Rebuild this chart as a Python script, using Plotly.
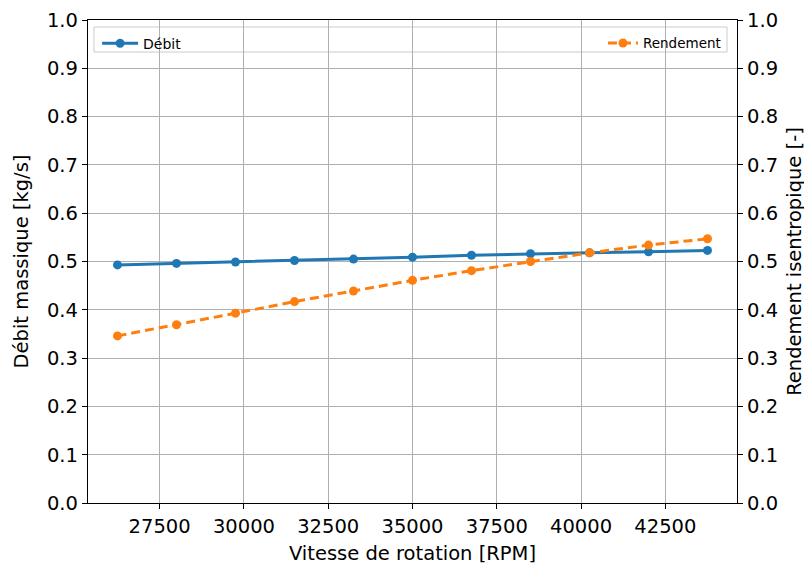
import plotly.graph_objects as go

rpm = [26250, 28000, 29750, 31500, 33250, 35000, 36750, 38500, 40250, 42000, 43750]
debit = [0.493, 0.496, 0.499, 0.502, 0.505, 0.509, 0.513, 0.516, 0.518, 0.520, 0.523]
rendement = [0.346, 0.369, 0.393, 0.417, 0.439, 0.461, 0.481, 0.500, 0.518, 0.534, 0.547]

BLUE = "#1f77b4"
ORANGE = "#ff7f0e"
FONT = "DejaVu Sans"

fig = go.Figure()
fig.add_trace(go.Scatter(
    x=rpm, y=debit, name="Débit", mode="lines+markers", showlegend=True,
    line=dict(color=BLUE, width=3), marker=dict(size=9, color=BLUE),
    legend="legend", yaxis="y"))
fig.add_trace(go.Scatter(
    x=rpm, y=rendement, name="Rendement", mode="lines+markers", showlegend=True,
    line=dict(color=ORANGE, width=3, dash="9px,5px"), marker=dict(size=9, color=ORANGE),
    legend="legend2", yaxis="y2"))

axis_common = dict(
    showline=True, linecolor="black", linewidth=1.3,
    ticks="outside", ticklen=5, tickwidth=1.2, tickcolor="black",
    tickfont=dict(family=FONT, size=19.5, color="black"),
    zeroline=False, automargin=False,
)

# the page body adds an 8px offset, so the figure is 8px smaller
fig.update_layout(
    width=804, height=557,
    margin=dict(l=80, r=75, t=12, b=62),
    paper_bgcolor="white", plot_bgcolor="white",
    font=dict(family=FONT, color="black"),
    showlegend=True,
    xaxis=dict(
        range=[25375, 44625], tick0=27500, dtick=2500, tickformat="d",
        showgrid=True, gridcolor="#b0b0b0", gridwidth=1, mirror=True,
        title=dict(text="Vitesse de rotation [RPM]", font=dict(family=FONT, size=19.5), standoff=9),
        **axis_common),
    yaxis=dict(
        range=[0, 1], dtick=0.1, tickformat=".1f",
        showgrid=True, gridcolor="#b0b0b0", gridwidth=1,
        title=dict(text="Débit massique [kg/s]", font=dict(family=FONT, size=19.5), standoff=13),
        **axis_common),
    yaxis2=dict(
        range=[0, 1], dtick=0.1, tickformat=".1f", overlaying="y", side="right",
        showgrid=False,
        title=dict(text="Rendement isentropique [-]", font=dict(family=FONT, size=19.5), standoff=10),
        **axis_common),
    legend=dict(x=0.014, y=0.984, xanchor="left", yanchor="top",
                bgcolor="rgba(0,0,0,0)", borderwidth=0,
                font=dict(family=FONT, size=14), itemwidth=36),
    legend2=dict(x=0.983, y=0.984, xanchor="right", yanchor="top",
                 bgcolor="rgba(0,0,0,0)", borderwidth=0,
                 font=dict(family=FONT, size=13.5), itemwidth=30),
    shapes=[dict(type="rect", xref="paper", yref="paper",
                 x0=0.0092, x1=0.9846, y0=0.9337, y1=0.9855,
                 line=dict(color="#cccccc", width=1), fillcolor="rgba(255,255,255,0.8)",
                 layer="below")],
)

fig.write_html("out.html")
